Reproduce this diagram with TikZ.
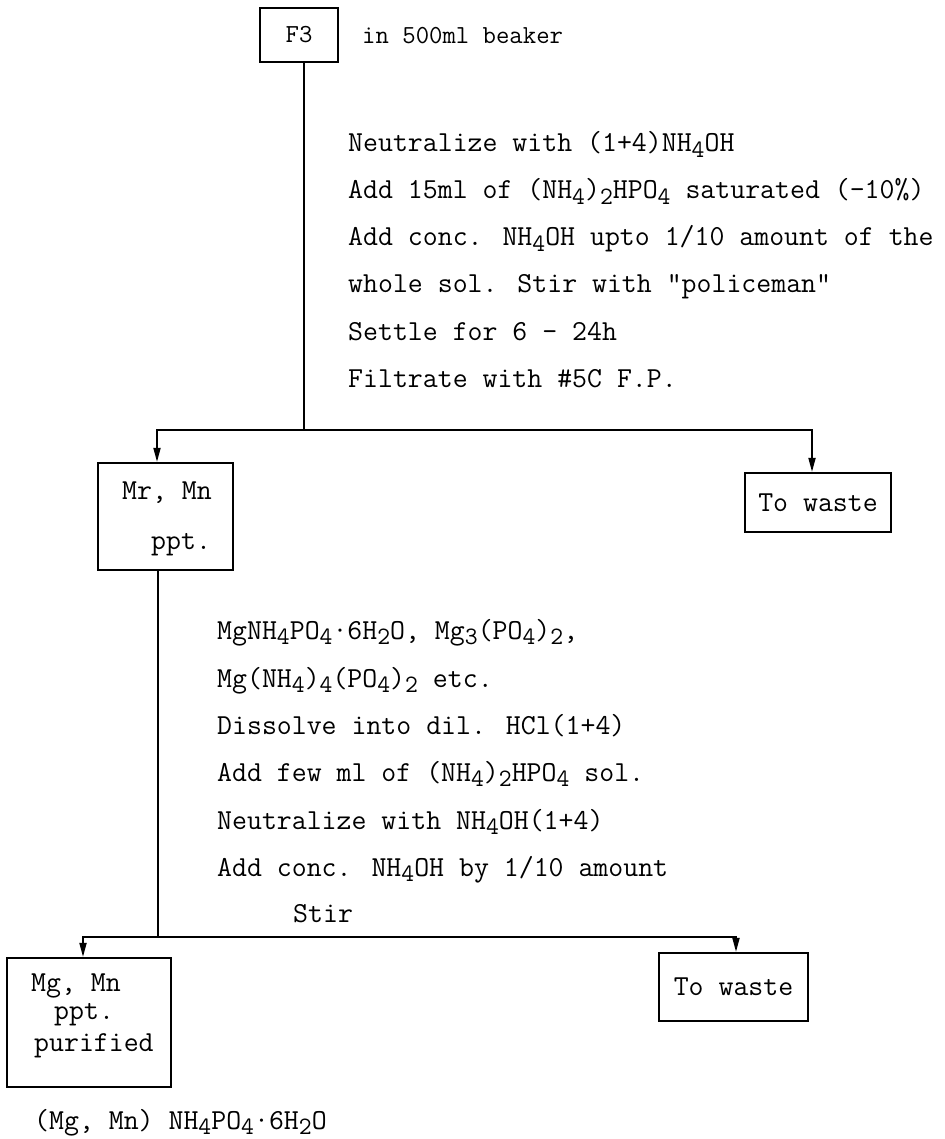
\documentclass[tikz,border=0pt]{standalone}
\usetikzlibrary{arrows.meta}
\newcommand\sbs[1]{\raisebox{-0.42ex}{\fontsize{25}{25}\selectfont #1}}
\tikzset{
  x=1pt, y=-1pt,
  every node/.style={font=\fontsize{29}{47}\selectfont\ttfamily, inner sep=0pt},
  smalltxt/.style={font=\fontsize{26}{40}\selectfont\ttfamily},
  box/.style={draw, line width=2.2pt},
  txt/.style={anchor=base west},
  conn/.style={line width=1.8pt},
  arr/.style={conn, -{Triangle[length=14pt,width=7pt]}},
}
\begin{document}
\begin{tikzpicture}
\useasboundingbox (0,0) rectangle (944,1139);
% top box
\node[box, smalltxt, minimum width=78pt, minimum height=54pt] (f3) at (299,35) {F3};
\node[txt, smalltxt] (beaker) at (362,44) {in 500ml beaker};
% first text block
\node[txt] (a1) at (348,152) {Neutralize with (1+4)NH\sbs{4}OH};
\node[txt] (a2) at (348,199) {Add 15ml of (NH\sbs{4})\sbs{2}HPO\sbs{4} saturated (-10\%)};
\node[txt] (a3) at (348,246) {Add conc. NH\sbs{4}OH upto 1/10 amount of the};
\node[txt] (a4) at (348,293) {whole sol. Stir with "policeman"};
\node[txt] (a5) at (348,340) {Settle for 6 – 24h};
\node[txt] (a6) at (348,387) {Filtrate with \#5C F.P.};
% second level boxes
\node[box, minimum width=135pt, minimum height=107pt] (mr) at (165.5,516.5) {};
\node[txt] (mrA) at (122,499) {Mr, Mn};
\node[txt] (mrB) at (151,549) {ppt.};
\node[box, minimum width=146pt, minimum height=59pt] (w1) at (818,502.5) {To waste};
% second text block
\node[txt] (b1) at (217,639) {MgNH\sbs{4}PO\sbs{4}·6H\sbs{2}O, Mg\sbs{3}(PO\sbs{4})\sbs{2},};
\node[txt] (b2) at (217,687) {Mg(NH\sbs{4})\sbs{4}(PO\sbs{4})\sbs{2} etc.};
\node[txt] (b3) at (217,734) {Dissolve into dil. HCl(1+4)};
\node[txt] (b4) at (217,781) {Add few ml of (NH\sbs{4})\sbs{2}HPO\sbs{4} sol.};
\node[txt] (b5) at (217,829) {Neutralize with NH\sbs{4}OH(1+4)};
\node[txt] (b6) at (217,876) {Add conc. NH\sbs{4}OH by 1/10 amount};
\node[txt] (b7) at (293,922) {Stir};
% third level boxes
\node[box, minimum width=164pt, minimum height=129pt] (mg) at (89,1022.5) {};
\node[txt] (mgA) at (31,991) {Mg, Mn};
\node[txt] (mgB) at (54,1019) {ppt.};
\node[txt] (mgC) at (34,1051) {purified};
\node[box, minimum width=149pt, minimum height=68pt] (w2) at (733.5,987) {To waste};
\node[txt] (formula) at (34,1129) {(Mg, Mn) NH\sbs{4}PO\sbs{4}·6H\sbs{2}O};
% connectors
\coordinate (s1) at (304,430);
\coordinate (l1) at (157,430);
\coordinate (r1) at (812,430);
\draw[conn] (f3.south -| s1) -- (s1);
\draw[arr] (s1) -| (l1 |- mr.north);
\draw[arr] (s1) -| (r1 |- w1.north);
\coordinate (s2) at (158,937);
\coordinate (l2) at (83,937);
\coordinate (r2) at (736,937);
\draw[conn] (mr.south -| s2) -- (s2);
\draw[arr] (s2) -| (l2 |- mg.north);
\draw[arr] (s2) -| (r2 |- w2.north);
\end{tikzpicture}
\end{document}
